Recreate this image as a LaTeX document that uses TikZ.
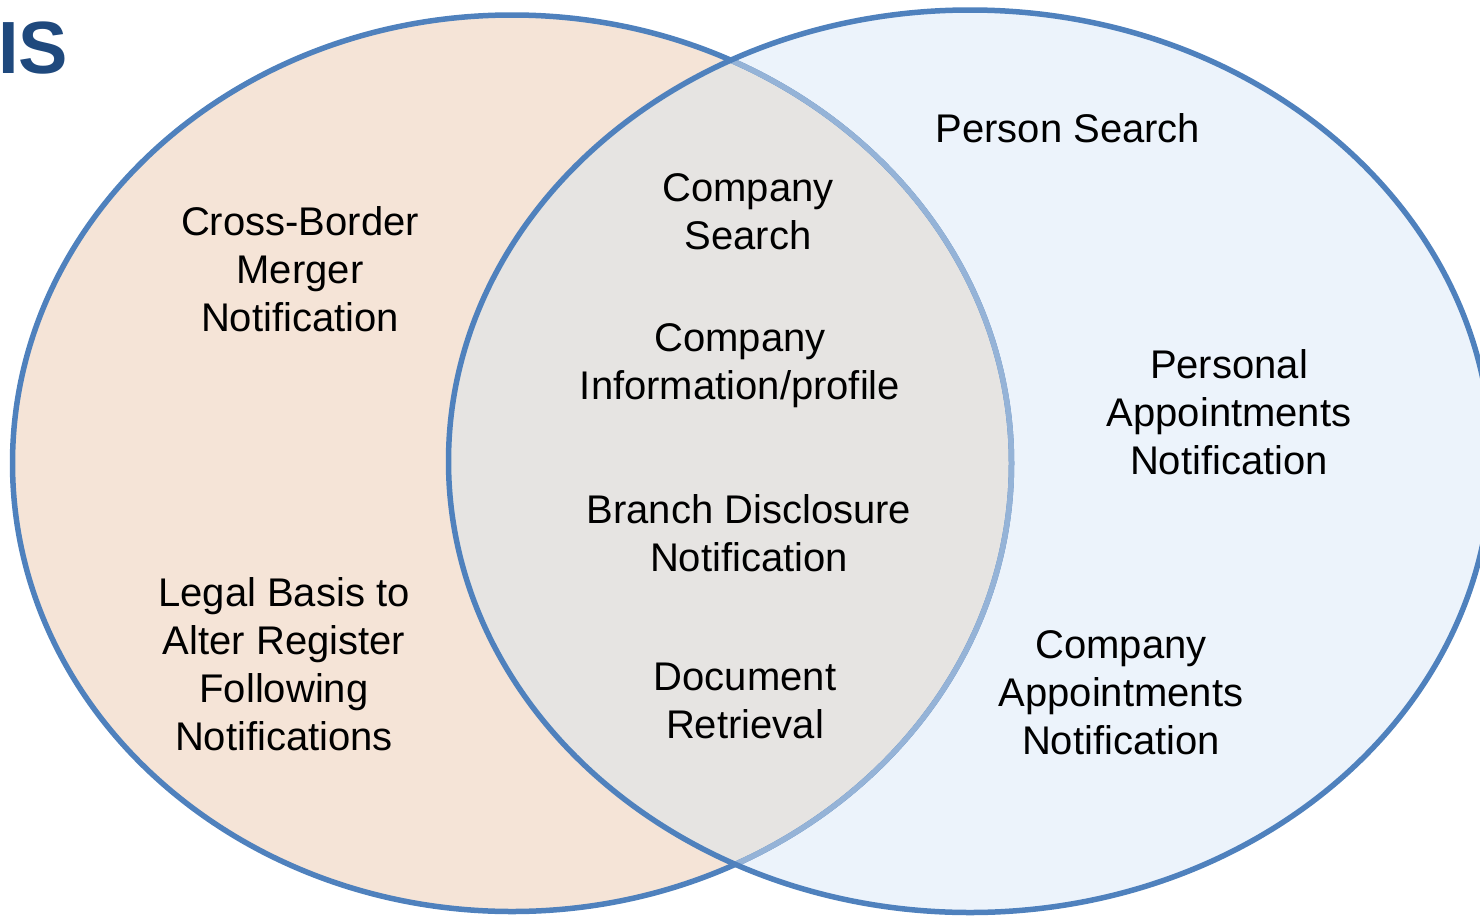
\documentclass[tikz,border=0pt]{standalone}
\usepackage{fontspec}
\setmainfont{Liberation Sans}
\definecolor{peach}{HTML}{F5E4D7}
\definecolor{lblue}{HTML}{ECF3FB}
\definecolor{midgray}{HTML}{E6E4E2}
\definecolor{darkline}{HTML}{4F81BD}
\definecolor{lightline}{HTML}{95B3D7}
\definecolor{titleblue}{HTML}{1F497D}
\begin{document}
\begin{tikzpicture}[x=1pt,y=-1pt,
  lbl/.style={align=center,font=\fontsize{40}{48}\selectfont,inner sep=0pt,text=black},
  rim/.style={line width=5.5pt}]
\useasboundingbox (0,0) rectangle (1480,916);
\def\leftell{(512,463.25) ellipse [x radius=499.5pt, y radius=448.25pt]}
\def\rightell{(970,461.25) ellipse [x radius=521.5pt, y radius=451.25pt]}
\fill[peach] \leftell;
\fill[lblue] \rightell;
\begin{scope}
  \clip \leftell;
  \fill[midgray] \rightell;
\end{scope}
\draw[darkline,rim] \leftell;
\begin{scope}
  \clip \rightell;
  \draw[lightline,rim] \leftell;
\end{scope}
\draw[darkline,rim] \rightell;
\node[anchor=base west,inner sep=0pt,text=titleblue,font=\fontsize{74}{80}\selectfont\bfseries] (title) at (-2,73) {IS};
\node[lbl] (ps) at (1068,128) {Person Search};
\node[lbl] (cs) at (748,212) {Company\\Search};
\node[lbl] (cbm) at (300,269) {Cross-Border\\Merger\\Notification};
\node[lbl] (cip) at (740,366) {Company\\Information/profile};
\node[lbl] (pan) at (1229,412) {Personal\\Appointments\\Notification};
\node[lbl] (bdn) at (749,533) {Branch Disclosure\\Notification};
\node[lbl] (lb) at (284,664) {Legal Basis to\\Alter Register\\Following\\Notifications};
\node[lbl] (can) at (1121,693) {Company\\Appointments\\Notification};
\node[lbl] (dr) at (745,701) {Document\\Retrieval};
\end{tikzpicture}
\end{document}
